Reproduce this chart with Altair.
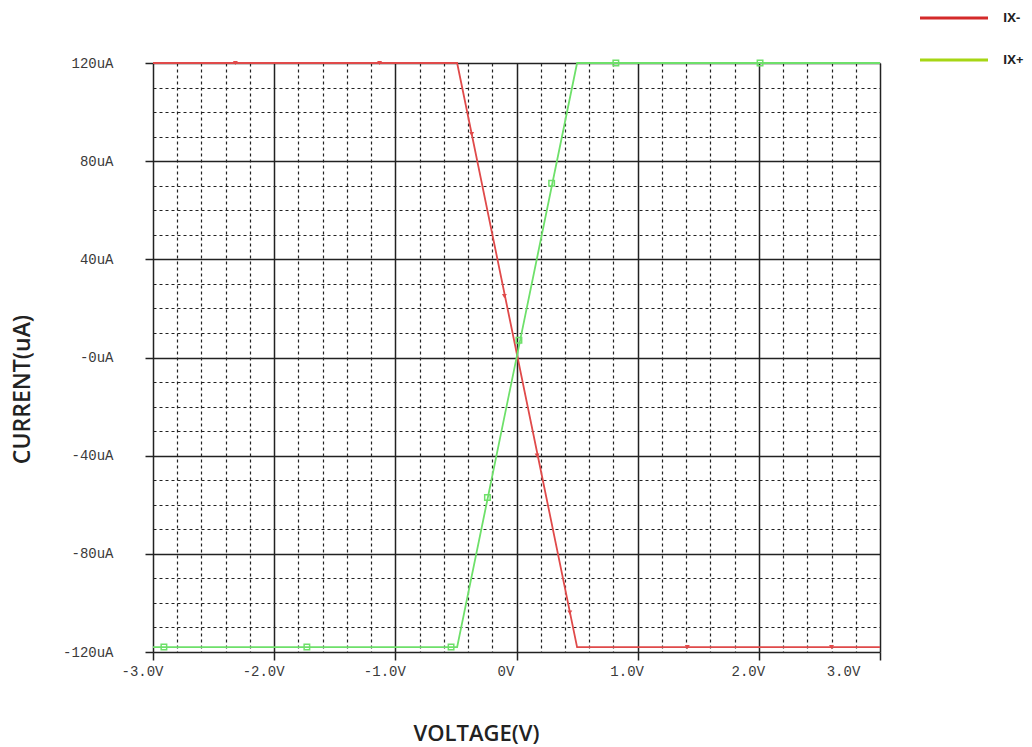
import altair as alt
import pandas as pd
import numpy as np

# ---- data ----
SERIES = ["IX-", "IX+"]
V_RED = [-3.0, -0.49, 0.50, 3.0]
I_RED = [120, 120, -118, -118]
V_GRN = [-3.0, -0.49, 0.50, 3.0]
I_GRN = [-118, -118, 120, 120]

MV_RED = [-2.32, -1.13, -0.37, -0.10, 0.17, 0.44, 1.41, 2.60]
MI_RED = [120, 120, 91, 25, -40, -104, -118, -118]
MV_GRN = [-2.91, -1.73, -0.54, -0.24, 0.02, 0.29, 0.82, 2.01]
MI_GRN = [-118, -118, -118, -57, 7, 71, 120, 120]

X_TICKS = [round(float(v), 1) for v in np.arange(-3.0, 3.01, 0.2)]
Y_TICKS = list(range(-120, 121, 10))

LINE_COLORS = ["#e04a4a", "#6ee06a"]
LEGEND_COLORS = ["#d42a2a", "#a6d614"]

lines = pd.concat([
    pd.DataFrame({"V": V_RED, "I": I_RED, "series": SERIES[0]}),
    pd.DataFrame({"V": V_GRN, "I": I_GRN, "series": SERIES[1]}),
])
legend_df = pd.DataFrame({"key": SERIES})
marks_red = pd.DataFrame({"V": MV_RED, "I": MI_RED})
marks_grn = pd.DataFrame({"V": MV_GRN, "I": MI_GRN})

W, H = 727, 589
x_scale = alt.Scale(domain=[-3, 3], nice=False, zero=False)
y_scale = alt.Scale(domain=[-120, 120], nice=False, zero=False)

x_major = "abs(datum.value - round(datum.value)) < 0.01"
y_major = "abs(datum.value % 40) < 0.01"

x_axis = alt.Axis(
    values=X_TICKS, tickCount=len(X_TICKS),
    grid=True, domain=False,
    gridColor="#222222",
    gridDash={"condition": {"test": x_major, "value": []}, "value": [3, 3]},
    gridWidth={"condition": {"test": x_major, "value": 1.5}, "value": 1.2},
    gridOpacity=1,
    tickColor="#222222", tickSize=8, tickWidth=1.5,
    tickOpacity={"condition": {"test": x_major, "value": 1}, "value": 0},
    labelExpr=("abs(datum.value - round(datum.value)) < 0.01 ? "
               "(datum.value == 0 ? '0V' : (datum.value < 0 ? '-' : '') + "
               "format(abs(datum.value), '.1f') + 'V') : ''"),
    labelFont="Liberation Mono", labelFontSize=14, labelColor="#3a3a3a",
    labelPadding=4,
    labelOffset={"condition": {"test": "datum.value > 2.9", "value": -37}, "value": -11},
    labelFlush=False, labelOverlap=False,
    title="VOLTAGE(V)",
    titleFont="Open Sans", titleFontSize=22, titleFontWeight=600, titleColor="#222222",
    titleX=323, titleY=81, titleAlign="center", titleBaseline="middle",
)
y_axis = alt.Axis(
    values=Y_TICKS, tickCount=len(Y_TICKS),
    grid=True, domain=False,
    gridColor="#222222",
    gridDash={"condition": {"test": y_major, "value": []}, "value": [3, 3]},
    gridWidth={"condition": {"test": y_major, "value": 1.5}, "value": 1.2},
    gridOpacity=1,
    tickColor="#222222", tickSize=8, tickWidth=1.5,
    tickOpacity={"condition": {"test": y_major, "value": 1}, "value": 0},
    labelExpr=("abs(datum.value % 40) < 0.01 ? "
               "(datum.value == 0 ? '-0uA' : (datum.value < 0 ? '-' : '') + "
               "abs(datum.value) + 'uA') : ''"),
    labelFont="Liberation Mono", labelFontSize=14, labelColor="#3a3a3a",
    labelPadding=32, labelOverlap=False, labelFlush=False,
    title="CURRENT(uA)",
    titleFont="Open Sans", titleFontSize=23, titleFontWeight=600, titleColor="#222222",
    titleX=-131, titleY=326, titleAngle=270, titleAlign="center", titleBaseline="middle",
)

line_layer = alt.Chart(lines).mark_line(strokeWidth=1.8).encode(
    x=alt.X("V:Q", scale=x_scale, axis=x_axis),
    y=alt.Y("I:Q", scale=y_scale, axis=y_axis),
    stroke=alt.Stroke("series:N", scale=alt.Scale(domain=SERIES, range=LINE_COLORS), legend=None),
    detail="series:N",
)

red_pts = alt.Chart(marks_red).mark_point(
    shape="triangle-down", filled=True, size=24, color=LINE_COLORS[0], opacity=1
).encode(x=alt.X("V:Q", scale=x_scale), y=alt.Y("I:Q", scale=y_scale))

grn_pts = alt.Chart(marks_grn).mark_point(
    shape="square", filled=False, size=30, color=LINE_COLORS[1], strokeWidth=1.5, opacity=1
).encode(x=alt.X("V:Q", scale=x_scale), y=alt.Y("I:Q", scale=y_scale))

# legend (top right, outside the plot area)
LEG_ROW_Y = [-45, -3]
legend_layers = []
for name, col, ly in zip(SERIES, LEGEND_COLORS, LEG_ROW_Y):
    src = alt.Chart(legend_df).transform_filter(alt.datum.key == name)
    legend_layers.append(
        src.mark_rule(strokeWidth=3, color=col).encode(
            x=alt.value(767), x2=alt.value(835), y=alt.value(ly)
        )
    )
    legend_layers.append(
        src.mark_text(align="left", baseline="middle", font="Open Sans",
                      fontSize=13, fontWeight="bold", color="#222222").encode(
            x=alt.value(850), y=alt.value(ly), text="key:N"
        )
    )

chart = alt.layer(line_layer, red_pts, grn_pts, *legend_layers).properties(
    width=W, height=H,
    autosize=alt.AutoSizeParams(type="none"),
    padding={"left": 153, "top": 63, "right": 152, "bottom": 95},
    background="white",
).configure_view(stroke=None)

chart.save("out.html", embed_options={"renderer": "svg", "actions": False})
